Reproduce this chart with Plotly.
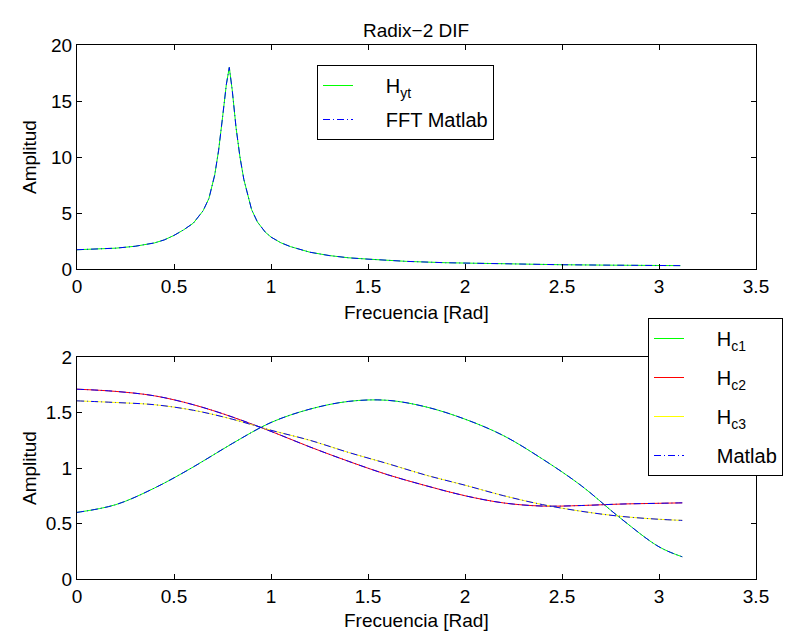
import plotly.graph_objects as go

# ---------------- Top panel data ----------------
w_top = [0.00, 0.10, 0.20, 0.30, 0.40, 0.45, 0.50, 0.55, 0.60, 0.65, 0.68, 0.71,
         0.73, 0.75, 0.77, 0.785, 0.80, 0.82, 0.84, 0.86, 0.88, 0.90, 0.93, 0.97,
         1.00, 1.05, 1.10, 1.20, 1.30, 1.40, 1.50, 1.70, 1.90, 2.10, 2.30, 2.50,
         2.70, 2.90, 3.11]
hyt = [1.72, 1.76, 1.86, 2.03, 2.33, 2.60, 3.00, 3.50, 4.10, 5.20, 6.30, 8.40,
       10.6, 13.5, 16.5, 18.0, 16.0, 12.6, 10.0, 8.0, 6.6, 5.3, 4.2, 3.3,
       2.85, 2.35, 2.00, 1.50, 1.20, 1.00, 0.88, 0.68, 0.56, 0.48, 0.42, 0.38,
       0.35, 0.32, 0.30]
fft_matlab = hyt

# ---------------- Bottom panel data ----------------
w_bot = [0.0, 0.2, 0.4, 0.6, 0.8, 1.0, 1.2, 1.4, 1.6, 1.8, 2.0, 2.2, 2.4, 2.6,
         2.8, 3.0, 3.12]
hc1 = [0.60, 0.67, 0.82, 1.01, 1.22, 1.41, 1.53, 1.60, 1.61, 1.55, 1.44, 1.29,
       1.08, 0.84, 0.55, 0.29, 0.20]
hc2 = [1.71, 1.69, 1.65, 1.57, 1.46, 1.33, 1.19, 1.06, 0.94, 0.84, 0.75, 0.685,
       0.657, 0.662, 0.675, 0.682, 0.686]
hc3 = [1.605, 1.59, 1.57, 1.52, 1.44, 1.34, 1.25, 1.14, 1.04, 0.935, 0.845, 0.75,
       0.67, 0.61, 0.565, 0.538, 0.528]
matlab_c1 = hc1
matlab_c2 = hc2
matlab_c3 = hc3

FONT = "Liberation Sans, Arial, Helvetica, sans-serif"
GREEN = "#00ff00"
RED = "#ff0000"
YELLOW = "#ffff00"
BLUE = "#0000ff"
DASHDOT = "7px,3px,1px,3px"
PAD = "\u00a0" * 5  # widens the legend like MATLAB's longer line samples

fig = go.Figure()

fig.add_trace(go.Scatter(x=w_top, y=hyt, mode="lines", name=PAD + "H<sub>yt</sub>",
                         line=dict(color=GREEN, width=1), xaxis="x", yaxis="y",
                         legend="legend", legendgroup="hyt"))
fig.add_trace(go.Scatter(x=w_top, y=fft_matlab, mode="lines", name=PAD + "FFT Matlab",
                         line=dict(color=BLUE, width=1, dash=DASHDOT),
                         xaxis="x", yaxis="y", legend="legend", legendgroup="fft"))

fig.add_trace(go.Scatter(x=w_bot, y=hc1, mode="lines", name=PAD + "H<sub>c1</sub>",
                         line=dict(color=GREEN, width=1, shape="spline"),
                         xaxis="x2", yaxis="y2", legend="legend2"))
fig.add_trace(go.Scatter(x=w_bot, y=hc2, mode="lines", name=PAD + "H<sub>c2</sub>",
                         line=dict(color=RED, width=1, shape="spline"),
                         xaxis="x2", yaxis="y2", legend="legend2"))
fig.add_trace(go.Scatter(x=w_bot, y=hc3, mode="lines", name=PAD + "H<sub>c3</sub>",
                         line=dict(color=YELLOW, width=1, shape="spline"),
                         xaxis="x2", yaxis="y2", legend="legend2"))
for i, ys in enumerate([matlab_c1, matlab_c2, matlab_c3]):
    fig.add_trace(go.Scatter(x=w_bot, y=ys, mode="lines", name=PAD + "Matlab",
                             line=dict(color=BLUE, width=1, dash=DASHDOT, shape="spline"),
                             xaxis="x2", yaxis="y2", legend="legend2",
                             legendgroup="matlab", showlegend=(i == 0)))

# The page body adds an 8 px offset; the figure is sized to fill the rest.
OFF = 8
W, H = 796 - OFF, 635 - OFF


def px_x(p):
    return (p - OFF) / W


def px_y(p):
    return 1 - (p - OFF) / H


XD = [px_x(77), px_x(756)]
axis_common = dict(showline=True, linecolor="black", linewidth=1, mirror="ticks",
                   ticks="inside", ticklen=5, tickcolor="black", showgrid=False,
                   zeroline=False, automargin=False,
                   tickfont=dict(family=FONT, size=19, color="black"))

fig.update_layout(
    width=W, height=H,
    margin=dict(l=0, r=0, t=0, b=0, autoexpand=False),
    paper_bgcolor="white", plot_bgcolor="white",
    font=dict(family=FONT, size=19, color="black"),
    xaxis=dict(domain=XD, range=[0, 3.5], dtick=0.5, anchor="y", **axis_common),
    yaxis=dict(domain=[px_y(269), px_y(45)], range=[0, 20], dtick=5, anchor="x",
               **axis_common),
    xaxis2=dict(domain=XD, range=[0, 3.5], dtick=0.5, anchor="y2", **axis_common),
    yaxis2=dict(domain=[px_y(579), px_y(357)], range=[0, 2], dtick=0.5, anchor="x2",
                **axis_common),
    legend=dict(x=px_x(317), y=px_y(65), xanchor="left", yanchor="top",
                bgcolor="white", bordercolor="black", borderwidth=1,
                tracegroupgap=5,
                font=dict(family=FONT, size=20, color="black")),
    legend2=dict(x=px_x(648), y=px_y(318), xanchor="left", yanchor="top",
                 bgcolor="white", bordercolor="black", borderwidth=1,
                 font=dict(family=FONT, size=20, color="black")),
    showlegend=True,
)

annos = [
    dict(text="Radix−2 DIF", x=px_x(416), y=px_y(30)),
    dict(text="Frecuencia [Rad]", x=px_x(416), y=px_y(312)),
    dict(text="Frecuencia [Rad]", x=px_x(416), y=px_y(620)),
    dict(text="Amplitud", x=px_x(29), y=px_y(157), textangle=-90),
    dict(text="Amplitud", x=px_x(29), y=px_y(468), textangle=-90),
]
for a in annos:
    fig.add_annotation(xref="paper", yref="paper", showarrow=False,
                       xanchor="center", yanchor="middle",
                       font=dict(family=FONT, size=19, color="black"), **a)

fig.write_html("out.html")
